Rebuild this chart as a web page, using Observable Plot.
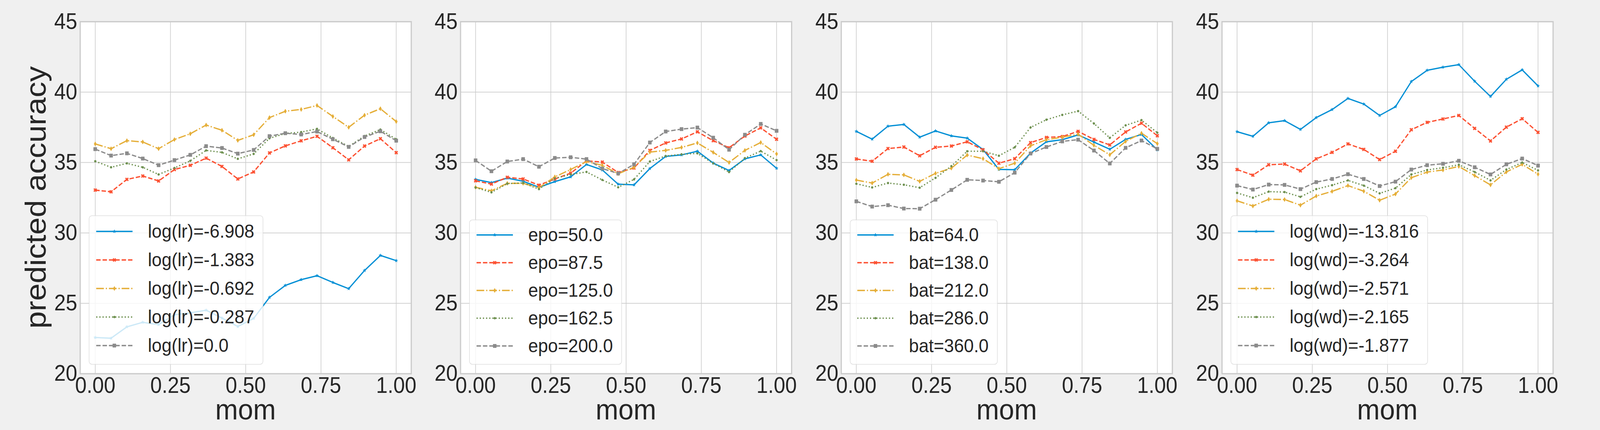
<!DOCTYPE html>
<html><head><meta charset="utf-8">
<script src="https://cdn.jsdelivr.net/npm/d3@7"></script>
<script src="https://cdn.jsdelivr.net/npm/@observablehq/plot@0.6"></script>
<style>
html,body{margin:0;padding:0;background:#f0f0f0;overflow:hidden;}
#fig{position:relative;width:4400px;height:1100px;background:#f0f0f0;overflow:hidden;transform-origin:0 0;}
#fig svg{position:absolute;top:0;}
</style></head><body><div id="fig"></div>
<script>
// ---- data ----
const mom = [0.0, 0.05263, 0.10526, 0.15789, 0.21053, 0.26316, 0.31579, 0.36842, 0.42105, 0.47368,
             0.52632, 0.57895, 0.63158, 0.68421, 0.73684, 0.78947, 0.84211, 0.89474, 0.94737, 1.0];
const xTicks = [0, 0.25, 0.5, 0.75, 1.0];
const yTicks = [20, 25, 30, 35, 40, 45];
const xLabel = "mom";
const yLabel = "predicted accuracy";

const lrLabels = ["log(lr)=-6.908", "log(lr)=-1.383", "log(lr)=-0.692", "log(lr)=-0.287", "log(lr)=0.0"];
const lr_m6908 = [22.57, 22.52, 23.33, 23.65, 23.49, 24.19, 24.32, 24.51, 23.95, 23.35, 23.93, 25.42, 26.27, 26.68, 26.96, 26.48, 26.04, 27.33, 28.40, 28.03];
const lr_m1383 = [33.04, 32.92, 33.80, 34.04, 33.69, 34.50, 34.80, 35.31, 34.72, 33.83, 34.33, 35.68, 36.18, 36.54, 36.86, 36.05, 35.19, 36.17, 36.69, 35.70];
const lr_m0692 = [36.32, 35.98, 36.55, 36.46, 35.98, 36.63, 37.04, 37.66, 37.29, 36.57, 36.97, 38.19, 38.64, 38.77, 39.05, 38.27, 37.50, 38.36, 38.82, 37.91];
const lr_m0287 = [35.09, 34.66, 34.94, 34.66, 34.15, 34.61, 35.12, 35.86, 35.72, 35.26, 35.61, 36.72, 37.06, 37.16, 37.39, 36.74, 36.14, 36.88, 37.34, 36.65];
const lr_0     = [35.95, 35.49, 35.65, 35.28, 34.81, 35.17, 35.54, 36.16, 36.03, 35.63, 35.89, 36.87, 37.08, 36.99, 37.20, 36.65, 36.11, 36.81, 37.22, 36.55];

const epoLabels = ["epo=50.0", "epo=87.5", "epo=125.0", "epo=162.5", "epo=200.0"];
const epo_50   = [33.80, 33.57, 33.89, 33.67, 33.24, 33.64, 33.98, 34.86, 34.47, 33.46, 33.41, 34.57, 35.43, 35.54, 35.80, 34.96, 34.43, 35.26, 35.54, 34.59];
const epo_87_5 = [33.70, 33.47, 33.95, 33.83, 33.39, 33.83, 34.24, 35.12, 35.03, 34.29, 34.61, 35.86, 36.39, 36.67, 37.18, 36.55, 36.05, 36.88, 37.46, 36.65];
const epo_125  = [33.24, 32.99, 33.52, 33.52, 33.21, 33.98, 34.50, 35.07, 34.80, 34.20, 34.66, 35.74, 35.86, 36.07, 36.39, 35.72, 35.00, 35.86, 36.42, 35.61];
const epo_162_5= [33.22, 32.88, 33.50, 33.55, 33.11, 33.87, 34.15, 34.33, 33.76, 33.24, 33.80, 35.07, 35.46, 35.58, 35.65, 34.94, 34.32, 35.31, 35.81, 35.17];
const epo_200  = [35.15, 34.38, 35.07, 35.24, 34.70, 35.32, 35.37, 35.24, 34.57, 34.22, 34.87, 36.42, 37.20, 37.37, 37.48, 36.76, 35.91, 36.97, 37.74, 37.25];

const batLabels = ["bat=64.0", "bat=138.0", "bat=212.0", "bat=286.0", "bat=360.0"];
const bat_64  = [37.21, 36.66, 37.58, 37.70, 36.80, 37.24, 36.89, 36.73, 35.92, 34.51, 34.49, 35.67, 36.47, 36.62, 36.96, 36.45, 35.94, 36.64, 36.99, 35.90];
const bat_138 = [35.25, 35.09, 35.99, 36.10, 35.48, 36.08, 36.17, 36.47, 35.90, 34.95, 35.27, 36.41, 36.78, 36.84, 37.21, 36.64, 36.25, 37.17, 37.79, 36.90];
const bat_212 = [33.75, 33.54, 34.16, 34.12, 33.66, 34.23, 34.60, 35.53, 35.27, 34.56, 34.95, 36.19, 36.62, 36.80, 37.01, 36.22, 35.55, 36.50, 37.08, 36.34];
const bat_286 = [33.49, 33.23, 33.54, 33.42, 33.21, 33.91, 34.74, 35.80, 35.80, 35.48, 36.08, 37.49, 38.04, 38.38, 38.65, 37.77, 36.75, 37.64, 38.01, 37.12];
const bat_360 = [32.24, 31.87, 31.97, 31.73, 31.72, 32.36, 33.05, 33.77, 33.72, 33.63, 34.28, 35.64, 36.10, 36.50, 36.62, 35.85, 34.93, 36.04, 36.56, 35.97];

const wdLabels = ["log(wd)=-13.816", "log(wd)=-3.264", "log(wd)=-2.571", "log(wd)=-2.165", "log(wd)=-1.877"];
const wd_m13816 = [37.19, 36.86, 37.82, 37.97, 37.35, 38.19, 38.76, 39.55, 39.15, 38.34, 38.96, 40.75, 41.55, 41.77, 41.95, 40.77, 39.69, 40.91, 41.58, 40.44];
const wd_m3264  = [34.50, 34.10, 34.84, 34.89, 34.41, 35.26, 35.72, 36.32, 35.93, 35.21, 35.80, 37.33, 37.85, 38.09, 38.34, 37.42, 36.53, 37.51, 38.11, 37.14];
const wd_m2571  = [32.28, 31.91, 32.39, 32.37, 31.97, 32.62, 32.95, 33.36, 32.96, 32.32, 32.76, 33.92, 34.32, 34.47, 34.72, 34.07, 33.41, 34.33, 34.87, 34.17];
const wd_m2165  = [32.84, 32.50, 32.93, 32.90, 32.56, 33.11, 33.39, 33.73, 33.36, 32.81, 33.18, 34.15, 34.47, 34.63, 34.84, 34.33, 33.73, 34.50, 35.00, 34.44];
const wd_m1877  = [33.36, 33.08, 33.43, 33.41, 33.11, 33.61, 33.83, 34.17, 33.83, 33.33, 33.64, 34.50, 34.81, 34.91, 35.12, 34.66, 34.15, 34.87, 35.28, 34.78];

// ---- styles ----
const colors = ["#008fd5", "#fc4f30", "#e5ae38", "#6d904f", "#8b8b8b"];
const LW = 3.3;
const dashes = [null, "12.2,5.3", "21.1,5.3,3.3,5.3", "3.3,5.4", "12.2,5.3"];
const FONT = '"Liberation Sans", Arial, Helvetica, sans-serif';
const TEXT = "#262626";

function mkSymbol(fn) { return {draw(c, size) { fn(c, Math.sqrt(size / Math.PI)); }}; }
function poly(c, pts) { pts.forEach(([x, y], i) => i ? c.lineTo(x, y) : c.moveTo(x, y)); c.closePath(); }
const starSym = mkSymbol((c, r) => {
  const pts = [];
  for (let i = 0; i < 10; i++) {
    const a = -Math.PI / 2 + i * Math.PI / 5, rr = i % 2 ? r * 0.40 : r;
    pts.push([rr * Math.cos(a), rr * Math.sin(a)]);
  }
  poly(c, pts);
});
const xSym = mkSymbol((c, r) => {
  const w = r * 0.3;
  poly(c, [[-w,-r],[w,-r],[w,-w],[r,-w],[r,w],[w,w],[w,r],[-w,r],[-w,w],[-r,w],[-r,-w],[-w,-w]]
    .map(([x, y]) => [(x - y) * Math.SQRT1_2, (x + y) * Math.SQRT1_2]));
});
const diamondSym = mkSymbol((c, r) => poly(c, [[0,-r],[0.6*r,0],[0,r],[-0.6*r,0]]));
const dotSym = mkSymbol((c, r) => { c.moveTo(r, 0); c.arc(0, 0, r, 0, 2 * Math.PI); c.closePath(); });
const squareSym = mkSymbol((c, r) => poly(c, [[-r,-r],[r,-r],[r,r],[-r,r]]));
const symbols = [starSym, xSym, diamondSym, dotSym, squareSym];
const radii = [4.4, 4.9, 5.6, 2.7, 4.5];

const panels = [
  {labels: lrLabels,  series: [lr_m6908, lr_m1383, lr_m0692, lr_m0287, lr_0], rowGap: 73, lastRow: 884},
  {labels: epoLabels, series: [epo_50, epo_87_5, epo_125, epo_162_5, epo_200], rowGap: 71, lastRow: 885},
  {labels: batLabels, series: [bat_64, bat_138, bat_212, bat_286, bat_360], rowGap: 71, lastRow: 885},
  {labels: wdLabels,  series: [wd_m13816, wd_m3264, wd_m2571, wd_m2165, wd_m1877], rowGap: 73, lastRow: 884}
];

const W = 1150, H = 1100, ML = 220, FW = 910.5, MT = 55, MB = 144.5;
const fig = document.getElementById("fig");
// map the 4400x1100 design onto the actual viewport
const sx = window.innerWidth / 4400, sy = window.innerHeight / 1100;
if (sx > 0 && sy > 0 && (Math.abs(sx - 1) > 0.003 || Math.abs(sy - 1) > 0.003)) {
  fig.style.transform = `scale(${sx},${sy})`;
}

panels.forEach((p, k) => {
  const rows = p.series.map((vals, i) => vals.map((v, j) => ({x: mom[j], y: v, s: i})));
  const marks = [
    Plot.frame({fill: "white", stroke: "none"}),
    Plot.gridX(xTicks, {stroke: "#cbcbcb", strokeOpacity: 1, strokeWidth: 1.7}),
    Plot.gridY(yTicks, {stroke: "#cbcbcb", strokeOpacity: 1, strokeWidth: 1.7}),
    ...rows.map((d, i) => Plot.line(d, {x: "x", y: "y", stroke: colors[i], strokeWidth: LW,
        strokeDasharray: dashes[i] || undefined, strokeLinejoin: "round", strokeLinecap: "butt"})),
    ...rows.map((d, i) => Plot.dot(d, {x: "x", y: "y", symbol: symbols[i], r: radii[i],
        fill: colors[i], stroke: colors[i], strokeWidth: 0.8})),
    Plot.axisX(xTicks, {tickSize: 0, tickPadding: 8.5, tickFormat: d3.format(".2f"), fontSize: 57, label: null}),
    Plot.axisY(yTicks, {tickSize: 0, tickPadding: 8, tickFormat: d3.format("d"), fontSize: 57, label: null}),
    Plot.frame({stroke: "#cbcbcb", strokeWidth: 3.3, fill: "none"})
  ];
  const plot = Plot.plot({
    width: W, height: H,
    marginLeft: ML, marginRight: W - ML - FW, marginTop: MT, marginBottom: MB,
    x: {domain: [-0.05, 1.05], label: null},
    y: {domain: [20, 45], label: null},
    style: {background: "transparent", overflow: "visible", fontFamily: FONT, color: TEXT},
    marks
  });
  plot.style.left = (k * 1046.7 - 0.4) + "px";
  fig.appendChild(plot);
  const svg = d3.select(plot);

  // axis titles
  svg.append("text").attr("x", ML + FW / 2).attr("y", 1073).attr("text-anchor", "middle")
    .attr("font-family", FONT).attr("font-size", 75).attr("fill", TEXT).text(xLabel);
  if (k === 0) {
    svg.append("text").attr("transform", "translate(126,505) rotate(-90)").attr("text-anchor", "middle")
      .attr("font-family", FONT).attr("font-size", 80).attr("fill", TEXT).text(yLabel);
  }

  // legend
  const g = svg.append("g").attr("text-anchor", "start");
  const bx = ML + 25;
  const rowY = p.labels.map((_, i) => p.lastRow - (4 - i) * p.rowGap);
  const top = rowY[0] - (p.rowGap === 73 ? 40.3 : 38.5), bottom = 932;
  const rect = g.append("rect").attr("x", bx).attr("y", top).attr("height", bottom - top)
    .attr("rx", 8).attr("ry", 8).attr("fill", "white").attr("fill-opacity", 0.8)
    .attr("stroke", "#d6d6d6").attr("stroke-opacity", 0.8).attr("stroke-width", 1.6);
  const hx0 = bx + 19.5, hx1 = hx0 + 100, tx = hx1 + 42;
  let maxW = 0;
  p.labels.forEach((lab, i) => {
    const y = rowY[i];
    const ln = g.append("line").attr("x1", hx0).attr("x2", hx1).attr("y1", y).attr("y2", y)
      .attr("stroke", colors[i]).attr("stroke-width", LW).attr("stroke-linecap", "butt");
    if (dashes[i]) ln.attr("stroke-dasharray", dashes[i]);
    g.append("path").attr("d", d3.symbol(symbols[i], Math.PI * radii[i] * radii[i])())
      .attr("transform", `translate(${(hx0 + hx1) / 2},${y})`)
      .attr("fill", colors[i]).attr("stroke", colors[i]).attr("stroke-width", 0.8);
    const t = g.append("text").attr("x", tx).attr("y", y + 16).attr("text-anchor", "start")
      .attr("font-family", FONT).attr("font-size", 49).attr("fill", TEXT).text(lab);
    maxW = Math.max(maxW, t.node().getComputedTextLength());
  });
  rect.attr("width", tx + maxW + 24 - bx);
});
</script></body></html>
